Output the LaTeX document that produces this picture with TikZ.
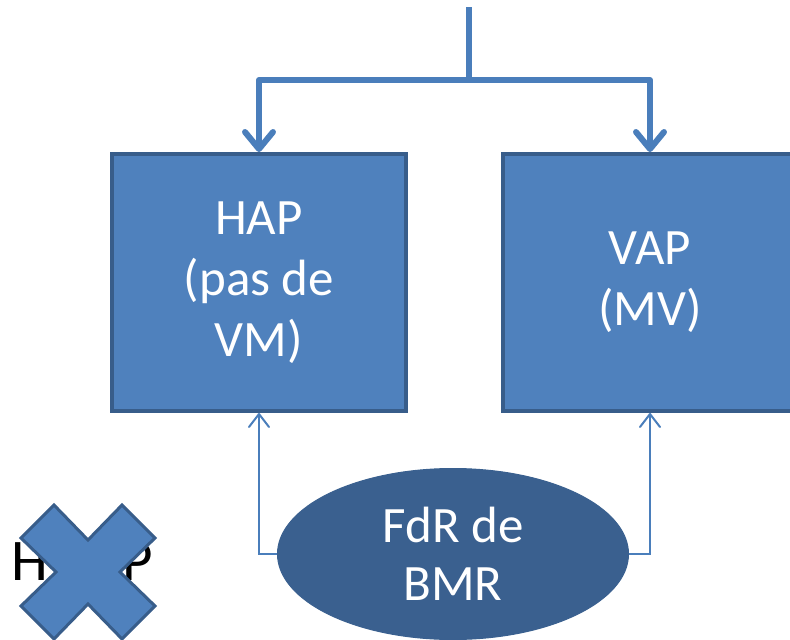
\documentclass[tikz,border=0pt]{standalone}
\usepackage{fontspec}
\setmainfont{Carlito}
\usetikzlibrary{arrows.meta,shapes.geometric}
\definecolor{boxfill}{RGB}{79,129,189}
\definecolor{boxline}{RGB}{56,93,138}
\definecolor{ellfill}{RGB}{58,96,143}
\definecolor{conn}{RGB}{74,126,187}
\begin{document}
\begin{tikzpicture}[x=1pt,y=-1pt,
  bigbox/.style={draw=boxline,line width=4pt,fill=boxfill,minimum width=294pt,minimum height=257pt,
    text=white,align=center,inner sep=0pt,font=\fontsize{51}{61}\selectfont},
  oval/.style={ellipse,draw=ellfill,line width=1pt,fill=ellfill,minimum width=351pt,minimum height=171pt,
    text=white,align=center,inner sep=0pt,font=\fontsize{51}{58}\selectfont},
  thickconn/.style={draw=conn,line width=6pt,line join=round,-{Straight Barb[length=17pt,width=28pt,round]}},
  thinconn/.style={draw=conn,line width=2pt,-{Straight Barb[length=13pt,width=20pt,round]}}]
\useasboundingbox (0,0) rectangle (790,640);
\clip (0,0) rectangle (790,640);
% text under the cross
\node[anchor=base west,inner sep=0pt,font=\fontsize{59}{70}\selectfont] (haptxt) at (11,580) {H\kern20pt A\kern20pt P};
% cross
\begin{scope}[shift={(88,572)}]
\filldraw[fill=boxfill,draw=boxline,line width=3pt,line join=miter]
  (-34,-67) -- (0,-32) -- (34,-67) -- (67,-34) -- (32,0) -- (67,34) -- (34,67) -- (0,32)
  -- (-34,67) -- (-67,34) -- (-32,0) -- (-67,-34) -- cycle;
\end{scope}
% boxes
\node[bigbox] (hap) at (259,282.5) {HAP\\(pas de\\VM)};
\node[bigbox] (vap) at (650,282.5) {VAP\\(MV)};
\node[oval] (fdr) at (453,554) {FdR de\\BMR};
% top connectors
\coordinate (top) at (469,7);
\coordinate (junc) at (469,80);
\draw[draw=conn,line width=6pt] (top) -- (junc);
\draw[thickconn] (junc) -| (hap.north);
\draw[thickconn] (junc) -| (vap.north);
% bottom connectors
\draw[thinconn] (fdr.west) -| (hap.south);
\draw[thinconn] (fdr.east) -| (vap.south);
\end{tikzpicture}
\end{document}
